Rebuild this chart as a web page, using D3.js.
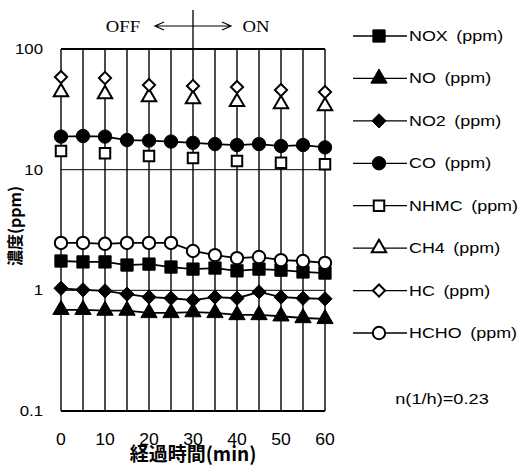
<!DOCTYPE html>
<html>
<head>
<meta charset="utf-8">
<script src="https://cdn.jsdelivr.net/npm/d3@7"></script>
<style>
  body { margin: 0; background: #fff; }
  text { font-family: "Liberation Sans", Arial, sans-serif; fill: #000; white-space: pre; }
</style>
</head>
<body>
<div id="chart"></div>
<script>
// elapsed time (min)
const times5 = [0, 5, 10, 15, 20, 25, 30, 35, 40, 45, 50, 55, 60];
const times10 = [0, 10, 20, 30, 40, 50, 60];
const xTicks = [0, 10, 20, 30, 40, 50, 60];
const yTicks = [0.1, 1, 10, 100];

// concentrations (ppm)
const nox  = [1.75, 1.72, 1.72, 1.62, 1.65, 1.56, 1.50, 1.53, 1.45, 1.50, 1.47, 1.42, 1.39];
const no   = [0.69, 0.69, 0.68, 0.68, 0.65, 0.65, 0.66, 0.65, 0.625, 0.625, 0.61, 0.59, 0.58];
const no2  = [1.04, 1.01, 0.99, 0.93, 0.88, 0.86, 0.83, 0.88, 0.86, 0.97, 0.88, 0.86, 0.85];
const co   = [18.8, 19.0, 18.8, 17.6, 17.4, 17.1, 16.7, 16.3, 16.0, 16.3, 15.7, 16.0, 15.3];
const nhmc = [14.3, 13.7, 13.0, 12.5, 11.8, 11.4, 11.1];
const ch4  = [44, 42.4, 40, 38.5, 36.4, 35, 33.7];
const hc   = [58.6, 57.5, 50.3, 49.4, 48.4, 45.7, 44];
const hcho = [2.47, 2.47, 2.43, 2.47, 2.47, 2.47, 2.12, 1.96, 1.85, 1.89, 1.78, 1.75, 1.69];

const seriesNames = ["NOX", "NO", "NO2", "CO", "NHMC", "CH4", "HC", "HCHO"];
const rateLabel = "n(1/h)=0.23";

const diamond = {
    draw(ctx, size) {
        const r = Math.sqrt(size) * 0.58;
        ctx.moveTo(0, -r); ctx.lineTo(r, 0); ctx.lineTo(0, r); ctx.lineTo(-r, 0); ctx.closePath();
    }
};

const series = [
    {name: "NOX",  t: times5,  v: nox,  sym: d3.symbolSquare,   size: 150, filled: true,  line: true},
    {name: "NO",   t: times5,  v: no,   sym: d3.symbolTriangle, size: 115, filled: true,  line: true},
    {name: "NO2",  t: times5,  v: no2,  sym: diamond,           size: 150, filled: true,  line: true},
    {name: "CO",   t: times5,  v: co,   sym: d3.symbolCircle,   size: 140, filled: true,  line: true},
    {name: "NHMC", t: times10, v: nhmc, sym: d3.symbolSquare,   size: 110, filled: false, line: false},
    {name: "CH4",  t: times10, v: ch4,  sym: d3.symbolTriangle, size: 90,  filled: false, line: false},
    {name: "HC",   t: times10, v: hc,   sym: diamond,           size: 110, filled: false, line: false},
    {name: "HCHO", t: times5,  v: hcho, sym: d3.symbolCircle,   size: 120, filled: false, line: true}
];

const W = 523, H = 468;
const plot = {left: 61, right: 325, top: 49, bottom: 411};

const svg = d3.select("#chart")
    .append("svg")
    .attr("width", W)
    .attr("height", H);

const x = d3.scaleLinear().domain([0, 60]).range([plot.left, plot.right]);
const y = d3.scaleLog().domain([0.1, 100]).range([plot.bottom, plot.top]);

// vertical grid every 5 min
svg.append("g")
    .selectAll("line")
    .data(times5)
    .enter()
    .append("line")
    .attr("x1", d => x(d)).attr("x2", d => x(d))
    .attr("y1", plot.top).attr("y2", plot.bottom)
    .attr("stroke", "#000")
    .attr("stroke-width", 1.4);

// horizontal lines at each decade
svg.append("g")
    .selectAll("line")
    .data(yTicks)
    .enter()
    .append("line")
    .attr("x1", plot.left).attr("x2", plot.right)
    .attr("y1", d => y(d)).attr("y2", d => y(d))
    .attr("stroke", "#000")
    .attr("stroke-width", d => (d === 10 || d === 1) ? 1 : 1.8);

// tick labels
svg.append("g")
    .selectAll("text")
    .data(yTicks)
    .enter()
    .append("text")
    .attr("transform", d => `translate(43,${y(d)}) scale(1.2,1)`)
    .attr("text-anchor", "end")
    .attr("dy", "0.35em")
    .style("font-size", "14px")
    .text(d => d3.format("")(d));

svg.append("g")
    .selectAll("text")
    .data(xTicks)
    .enter()
    .append("text")
    .attr("transform", d => `translate(${x(d)},445) scale(1.1,1)`)
    .attr("text-anchor", "middle")
    .style("font-size", "16px")
    .text(d => d);

// axis titles
svg.append("text")
    .attr("transform", `translate(21,226) rotate(-90)`)
    .attr("text-anchor", "middle")
    .style("font-family", "Noto Sans CJK JP")
    .style("font-size", "16px")
    .style("font-weight", "bold")
    .text("濃度(ppm)");

svg.append("text")
    .attr("x", x(30))
    .attr("y", 461)
    .attr("text-anchor", "middle")
    .style("font-family", "Noto Sans CJK JP")
    .style("font-size", "19px")
    .style("font-weight", "bold")
    .text("経過時間(min)");

// OFF <-> ON marker
svg.append("line")
    .attr("x1", x(30)).attr("x2", x(30))
    .attr("y1", 10).attr("y2", plot.top)
    .attr("stroke", "#000").attr("stroke-width", 1.3);

const arrowY = 26, half = 38;
svg.append("path")
    .attr("d", `M${x(30) - half},${arrowY}H${x(30) + half}` +
        `M${x(30) - half + 9},${arrowY - 4}L${x(30) - half},${arrowY}L${x(30) - half + 9},${arrowY + 4}` +
        `M${x(30) + half - 9},${arrowY - 4}L${x(30) + half},${arrowY}L${x(30) + half - 9},${arrowY + 4}`)
    .attr("fill", "none")
    .attr("stroke", "#000")
    .attr("stroke-width", 1.2);

svg.append("text")
    .attr("transform", `translate(${x(30) - 70},${arrowY}) scale(1.1,1)`)
    .attr("text-anchor", "middle")
    .attr("dy", "0.35em")
    .style("font-family", "Liberation Serif, serif")
    .style("font-size", "17px")
    .text("OFF");

svg.append("text")
    .attr("transform", `translate(${x(30) + 63},${arrowY}) scale(1.1,1)`)
    .attr("text-anchor", "middle")
    .attr("dy", "0.35em")
    .style("font-family", "Liberation Serif, serif")
    .style("font-size", "17px")
    .text("ON");

// series lines
const line = d3.line()
    .x(d => x(d[0]))
    .y(d => y(d[1]));

series.filter(s => s.line).forEach(s => {
    svg.append("path")
        .datum(s.t.map((t, i) => [t, s.v[i]]))
        .attr("fill", "none")
        .attr("stroke", "#000")
        .attr("stroke-width", 1.8)
        .attr("d", line);
});

// markers
series.forEach(s => {
    svg.append("g")
        .selectAll("path")
        .data(s.t.map((t, i) => [t, s.v[i]]))
        .enter()
        .append("path")
        .attr("transform", d => `translate(${x(d[0])},${y(d[1])})`)
        .attr("d", d3.symbol().type(s.sym).size(s.size))
        .attr("fill", s.filled ? "#000" : "#fff")
        .attr("stroke", "#000")
        .attr("stroke-width", s.filled ? 1 : 2);
});

// legend
const ly = d3.scalePoint().domain(seriesNames).range([36, 333]);

const legend = svg.selectAll(".legend")
    .data(series)
    .enter()
    .append("g")
    .attr("class", "legend")
    .attr("transform", d => `translate(0,${ly(d.name)})`);

legend.append("line")
    .attr("x1", 353).attr("x2", 407)
    .attr("stroke", "#000")
    .attr("stroke-width", 1.3);

legend.append("path")
    .attr("transform", "translate(379,0)")
    .attr("d", d => d3.symbol().type(d.sym).size(d.size)())
    .attr("fill", d => d.filled ? "#000" : "#fff")
    .attr("stroke", "#000")
    .attr("stroke-width", d => d.filled ? 1 : 2);

legend.append("text")
    .attr("transform", "translate(409,0) scale(1.28,1)")
    .attr("dy", "0.36em")
    .style("font-size", "14px")
    .text(d => d.name + " \u2009(ppm)");

svg.append("text")
    .attr("transform", "translate(442,399) scale(1.3,1)")
    .attr("text-anchor", "middle")
    .attr("dy", "0.36em")
    .style("font-size", "14px")
    .text(rateLabel);
</script>
</body>
</html>
